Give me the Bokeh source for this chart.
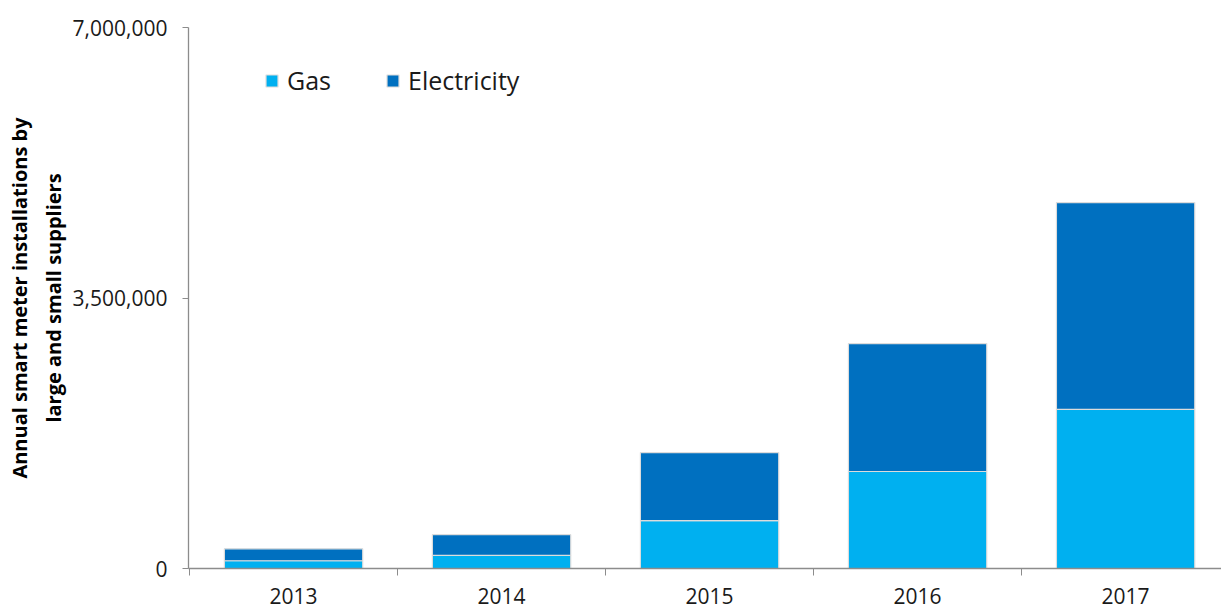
from bokeh.plotting import figure
from bokeh.models import (ColumnDataSource, Range1d, FixedTicker, NumeralTickFormatter,
                          Legend, LegendItem)
from bokeh.embed import file_html
from bokeh.resources import INLINE

years = ["2013", "2014", "2015", "2016", "2017"]
gas = [100000, 170000, 620000, 1255000, 2060000]
electricity = [155000, 268000, 880000, 1655000, 2675000]
y_ticks = [0, 3500000, 7000000]
y_title = "Annual smart meter installations by\nlarge and small suppliers"

FONT = "Open Sans"
GAS_C = "#00B0F0"
ELEC_C = "#0070C0"
AX_C = "#8c8c8c"

xs = list(range(len(years)))
src = ColumnDataSource(dict(x=xs, Gas=gas, Electricity=electricity))

p = figure(width=1221, height=610, output_backend="svg", toolbar_location=None,
           x_range=Range1d(-0.505, 4.461), y_range=Range1d(0, 7000000),
           min_border_left=188, min_border_top=27, min_border_bottom=42, min_border_right=0)

rs = p.vbar_stack(["Gas", "Electricity"], x="x", width=0.665, source=src,
                  color=[GAS_C, ELEC_C], line_color="#dcdcdc", line_width=1.2)

p.xgrid.visible = False
p.ygrid.visible = False
p.outline_line_color = None

# x axis
xa = p.xaxis[0]
xa.ticker = FixedTicker(ticks=xs, minor_ticks=[i - 0.5 for i in range(len(years) + 1)])
xa.major_label_overrides = {i: y for i, y in enumerate(years)}
xa.major_tick_out = 0
xa.major_tick_in = 0
xa.minor_tick_out = 7
xa.minor_tick_in = 0
xa.minor_tick_line_color = AX_C
xa.axis_line_color = AX_C
xa.axis_line_width = 1.3
xa.major_label_text_font = FONT
xa.major_label_text_font_size = "21px"
xa.major_label_text_color = "#1a1a1a"
xa.major_label_standoff = 12

# y axis
ya = p.yaxis[0]
ya.ticker = FixedTicker(ticks=y_ticks, minor_ticks=[])
ya.formatter = NumeralTickFormatter(format="0,0")
ya.major_tick_out = 6
ya.major_tick_in = 0
ya.major_tick_line_color = AX_C
ya.axis_line_color = AX_C
ya.axis_line_width = 1.3
ya.major_label_text_font = FONT
ya.major_label_text_font_size = "21px"
ya.major_label_text_color = "#1a1a1a"
ya.major_label_standoff = 15
ya.axis_label = y_title
ya.axis_label_text_font = FONT
ya.axis_label_text_font_style = "bold"
ya.axis_label_text_font_size = "20px"
ya.axis_label_text_color = "#000000"
ya.axis_label_text_line_height = 1.25
ya.axis_label_standoff = 3

legend = Legend(items=[LegendItem(label="Gas", renderers=[rs[0]]),
                       LegendItem(label="Electricity", renderers=[rs[1]])],
                orientation="horizontal", location=(76, 471),
                border_line_color=None, background_fill_alpha=0,
                glyph_width=15, glyph_height=15, label_standoff=8, spacing=54,
                padding=0, margin=0,
                label_text_font=FONT, label_text_font_size="25px", label_text_color="#1a1a1a")
p.add_layout(legend, "center")

open("out.html", "w").write(file_html(p, INLINE))
